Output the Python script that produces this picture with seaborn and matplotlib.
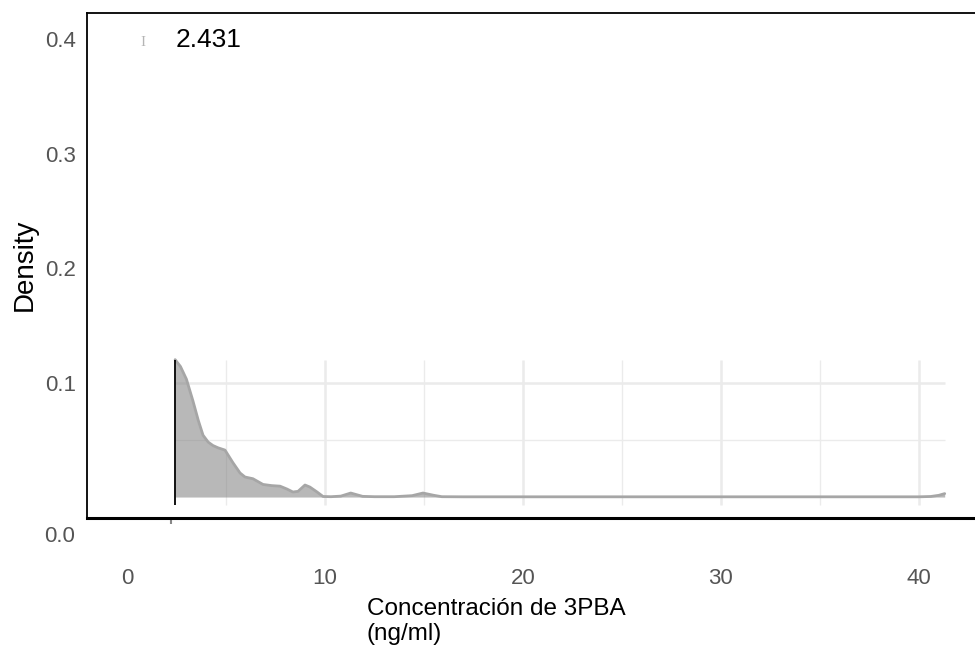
import matplotlib
matplotlib.use("Agg")
import matplotlib.pyplot as plt
import seaborn as sns
import numpy as np
import pandas as pd

# density of 3PBA concentration
conc = [2.431, 2.7, 3.0, 3.33, 3.6, 3.84, 4.1, 4.34, 4.6, 4.95, 5.35, 5.71, 5.96,
        6.36, 6.87, 7.3, 7.73, 8.08, 8.38, 8.64, 8.99, 9.24, 9.6, 9.9, 10.3,
        10.8, 11.3, 11.9, 12.5, 13.5, 14.4, 14.95, 15.5, 15.9, 17.0, 20.0, 25.0,
        30.0, 35.0, 40.0, 40.6, 41.0, 41.3]
density = [0.120, 0.114, 0.103, 0.084, 0.067, 0.054, 0.048, 0.045, 0.043, 0.041,
           0.030, 0.021, 0.0175, 0.016, 0.011, 0.010, 0.0095, 0.007, 0.0044,
           0.005, 0.0105, 0.0087, 0.0044, 0.0005, 0.0003, 0.0008, 0.0035, 0.0006,
           0.0003, 0.0003, 0.0012, 0.0035, 0.0015, 0.0003, 0.0002, 0.0002, 0.0002,
           0.0002, 0.0002, 0.0002, 0.0005, 0.0015, 0.003]
min_value = 2.431

x_ticks = [0, 10, 20, 30, 40]
y_ticks = [0.1, 0.2, 0.3, 0.4]
x_grid_major = [10, 20, 30, 40]
x_grid_minor = [5, 15, 25, 35]
y_grid_major = [0.1]
y_grid_minor = [0.05]

df = pd.DataFrame({"conc": conc, "density": density})

sns.set_theme(style="white")
plt.rcParams["font.family"] = ["Liberation Sans", "DejaVu Sans"]

fig = plt.figure(figsize=(9.75, 6.52), dpi=100)
ax = fig.add_axes([87 / 975, 134 / 652, 1 - 87 / 975, 505 / 652])
ax.set_xlim(-2.02, 42.83)
ax.set_ylim(-0.0183, 0.4227)

# inner panel grid
gcol = "#ebebeb"
ax.vlines(x_grid_minor, -0.007, 0.12, color=gcol, lw=1.0, zorder=1)
ax.vlines(x_grid_major, -0.007, 0.12, color=gcol, lw=1.8, zorder=1)
ax.hlines(y_grid_minor, min_value, max(conc), color=gcol, lw=1.0, zorder=1)
ax.hlines(y_grid_major, min_value, max(conc), color=gcol, lw=1.8, zorder=1)

# density
ax.fill_between(df["conc"], 0, df["density"], color="#7f7f7f", alpha=0.55,
                lw=0, zorder=2)
sns.lineplot(data=df, x="conc", y="density", ax=ax, color="#a6a6a6",
             linewidth=2, zorder=3)
ax.vlines([min_value], -0.007, max(density), color="black", lw=1.3, zorder=4)

# spines
for s in ["left", "top", "bottom"]:
    ax.spines[s].set_visible(True)
    ax.spines[s].set_color("black")
ax.spines["right"].set_visible(False)
ax.spines["left"].set_linewidth(1.3)
ax.spines["top"].set_linewidth(1.3)
ax.spines["bottom"].set_linewidth(2.2)

ax.set_xticks(x_ticks)
ax.set_xticklabels([str(t) for t in x_ticks])
ax.set_yticks(y_ticks)
ax.set_yticklabels([f"{t:.1f}" for t in y_ticks])
ax.tick_params(axis="x", which="major", length=0, pad=36, labelsize=16,
               labelcolor="#555555")
ax.tick_params(axis="y", which="major", length=0, pad=8, labelsize=16,
               labelcolor="#555555")
ax.set_xticks([2.2], minor=True)
ax.tick_params(axis="x", which="minor", bottom=True, length=4.5, width=1.5,
               color="#888888", direction="out")
ax.set_xlabel("")
ax.set_ylabel("")
ax.grid(False)

fig.text(75 / 975, 1 - 537 / 652, "0.0", ha="right", va="center",
         fontsize=16, color="#555555")

# annotation of minimum value
ax.text(0.8, 0.397, "I", ha="center", va="center", fontsize=11,
        color="#b5b5b5", family="Liberation Serif")
ax.text(min_value, 0.399, "2.431", ha="left", va="center", fontsize=19,
        color="black")

fig.text(367 / 975, 1 - 598 / 652, "Concentración de 3PBA\n(ng/ml)",
         ha="left", va="top", fontsize=17.5, color="black", linespacing=1.15)
fig.text(25 / 975, 1 - 265 / 652, "Density", ha="center", va="center",
         rotation=90, fontsize=20, color="black")

fig.savefig("out.png", dpi=100)
